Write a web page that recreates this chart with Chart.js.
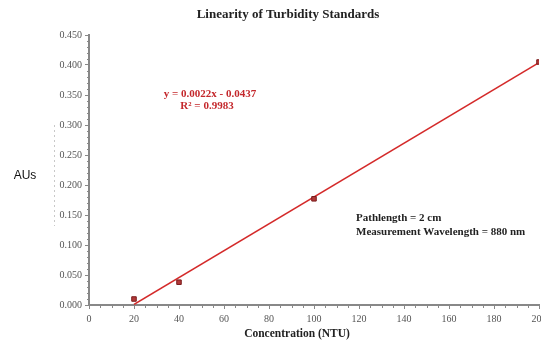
<!DOCTYPE html>
<html><head><meta charset="utf-8">
<script src="https://cdn.jsdelivr.net/npm/chart.js@4/dist/chart.umd.min.js"></script>
<style>
html,body{margin:0;padding:0;background:#fff;overflow:hidden;}
#wrap{width:560px;height:344px;position:relative;}
</style></head>
<body><div id="wrap"><canvas id="c"></canvas></div>
<script>
const titleText = "Linearity of Turbidity Standards";
const xAxisTitle = "Concentration (NTU)";
const yAxisTitle = "AUs";
const concentrations = [20, 40, 100, 200];
const absorbances = [0.010, 0.038, 0.177, 0.405];
const trendX = [20, 200];
const trendY = [0.001, 0.404];
const equationLines = ["y = 0.0022x - 0.0437", "R\u00B2 = 0.9983"];
const noteLines = ["Pathlength = 2 cm", "Measurement Wavelength = 880 nm"];

const serif = "'Liberation Serif','Times New Roman',serif";

const decor = {
  id: 'decor',
  afterDraw(chart) {
    const ctx = chart.ctx, xs = chart.scales.x, ys = chart.scales.y;
    ctx.save();
    // minor ticks
    ctx.strokeStyle = '#888'; ctx.lineWidth = 1;
    for (let v = 0; v <= 200; v += 5) {
      if (v % 20 === 0) continue;
      const px = Math.round(xs.getPixelForValue(v)) + 0.5;
      ctx.beginPath(); ctx.moveTo(px, ys.bottom); ctx.lineTo(px, ys.bottom + 3); ctx.stroke();
    }
    for (let i = 0; i <= 45; i++) {
      if (i % 5 === 0) continue;
      const py = Math.round(ys.getPixelForValue(i / 100)) + 0.5;
      ctx.beginPath(); ctx.moveTo(xs.left - 2, py); ctx.lineTo(xs.left, py); ctx.stroke();
    }
    // title
    ctx.fillStyle = '#222';
    ctx.font = "bold 13px " + serif;
    ctx.textAlign = 'center'; ctx.textBaseline = 'middle';
    ctx.fillText(titleText, 288, 15);
    // x title
    ctx.font = "bold 11.5px " + serif;
    ctx.fillText(xAxisTitle, 297, 334);
    // y title
    ctx.font = "12px 'Liberation Sans', Arial, sans-serif";
    ctx.fillStyle = '#111';
    ctx.fillText(yAxisTitle, 25, 176);
    // faint dashed line
    ctx.strokeStyle = '#c8c8c8'; ctx.setLineDash([2, 3]);
    ctx.beginPath(); ctx.moveTo(54.5, 125); ctx.lineTo(54.5, 226); ctx.stroke();
    ctx.setLineDash([]);
    // equation
    ctx.fillStyle = '#c4282c';
    ctx.font = "bold 11px " + serif;
    ctx.fillText(equationLines[0], 210, 94);
    ctx.fillText(equationLines[1], 207, 106);
    // notes
    ctx.fillStyle = '#222';
    ctx.textAlign = 'left';
    ctx.fillText(noteLines[0], 356, 218);
    ctx.fillText(noteLines[1], 356, 232);
    ctx.restore();
  }
};

new Chart(document.getElementById('c'), {
  type: 'scatter',
  data: {
    datasets: [
      {
        label: 'trend',
        data: trendX.map((x, i) => ({x, y: trendY[i]})),
        showLine: true,
        borderColor: '#d42a2a',
        borderWidth: 1.6,
        pointRadius: 0,
        order: 2
      },
      {
        label: 'data',
        data: concentrations.map((x, i) => ({x, y: absorbances[i]})),
        pointStyle: 'rect',
        pointRadius: 3.2,
        backgroundColor: '#b23a3a',
        borderColor: '#7a1c1c',
        borderWidth: 1,
        order: 1
      }
    ]
  },
  options: {
    responsive: true,
    maintainAspectRatio: false,
    animation: false,
    layout: { padding: { top: 35, right: 21, left: 0, bottom: 0 } },
    plugins: { legend: { display: false }, title: { display: false }, tooltip: { enabled: false } },
    scales: {
      x: {
        type: 'linear', min: 0, max: 200,
        ticks: { stepSize: 20, color: '#555', font: { family: serif, size: 10 }, padding: 4, maxRotation: 0 },
        grid: { drawOnChartArea: false, drawTicks: true, tickLength: 4, color: '#888' },
        border: { color: '#888', width: 2 },
        afterFit(s) { s.height = 39; }
      },
      y: {
        type: 'linear', min: 0, max: 0.45,
        ticks: { stepSize: 0.05, color: '#555', font: { family: serif, size: 10 }, padding: 3, callback: v => v.toFixed(3) },
        grid: { drawOnChartArea: false, drawTicks: true, tickLength: 4, color: '#888' },
        border: { color: '#888', width: 2 },
        afterFit(s) { s.width = 89; }
      }
    }
  },
  plugins: [decor]
});
</script></body></html>
